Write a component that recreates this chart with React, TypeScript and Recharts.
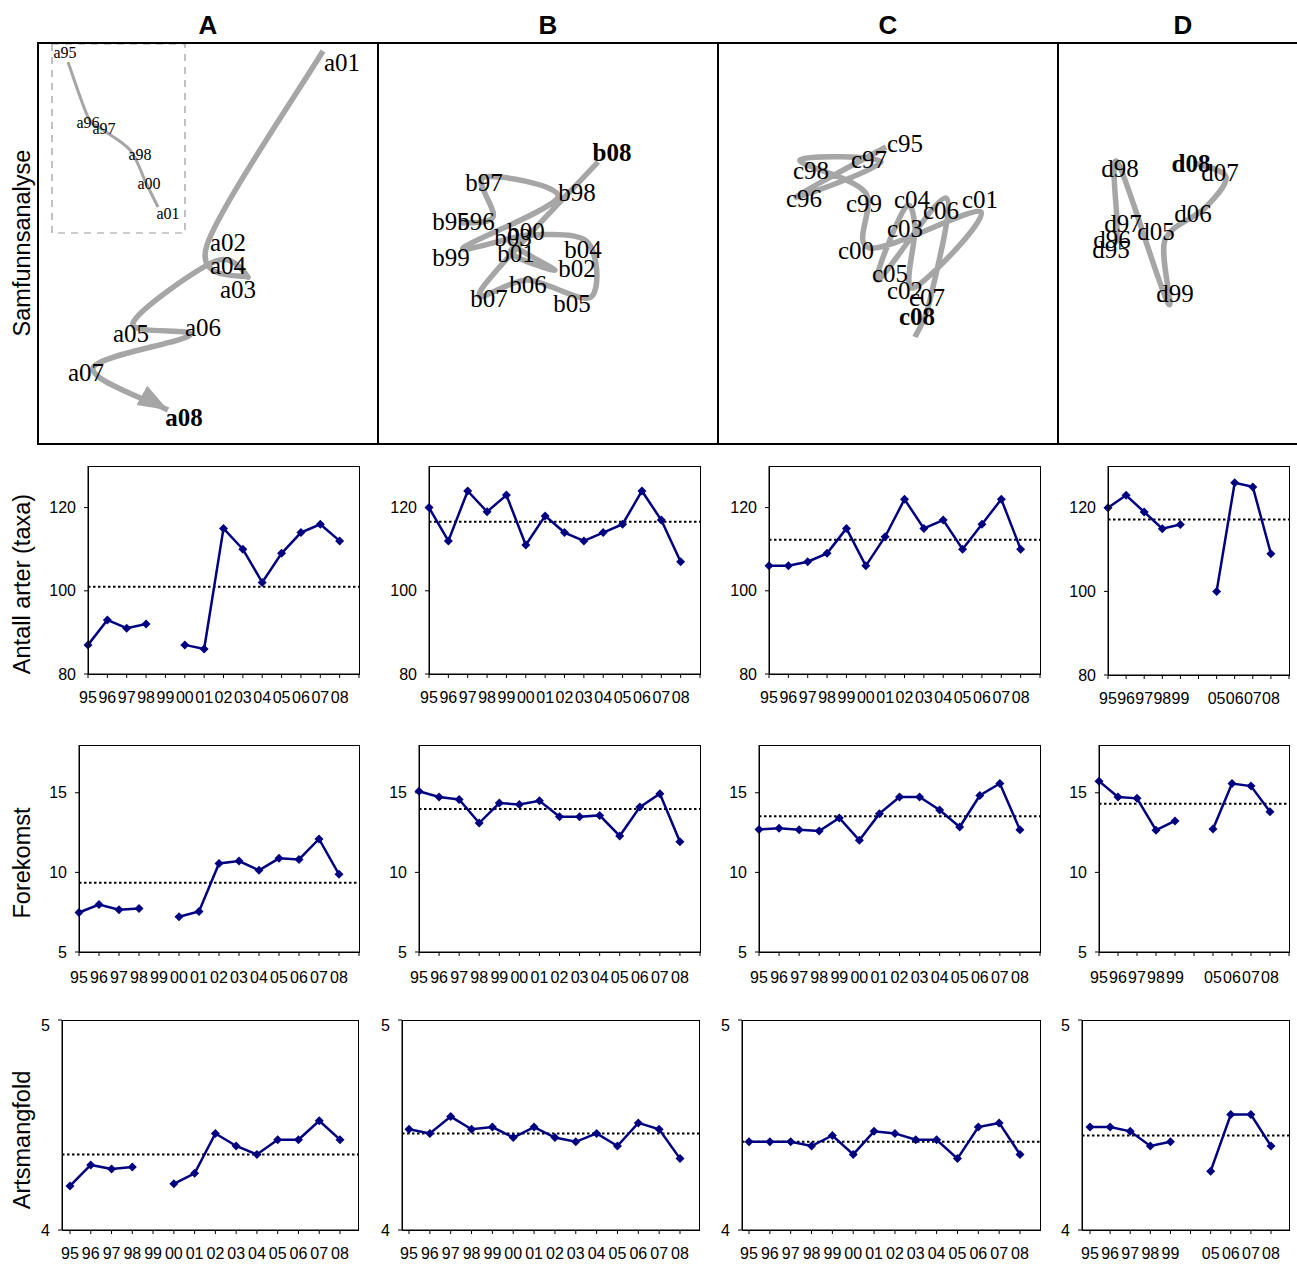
import React from 'react';
import { LineChart, Line, XAxis, YAxis, ReferenceLine, ReferenceArea } from 'recharts';

// ---------- categories ----------
const YEARS = ['95', '96', '97', '98', '99', '00', '01', '02', '03', '04', '05', '06', '07', '08', 'end'];
const YEARS_D = ['95', '96', '97', '98', '99', 'gap', '05', '06', '07', '08', 'end'];
const YEARS_BOTTOM = ['95', '96', '97', '98', '99', '00', '01', '02', '03', '04', '05', '06', '07', '08'];
const YEARS_D_BOTTOM = ['95', '96', '97', '98', '99', 'gap', '05', '06', '07', '08'];

// ---------- Antall arter (taxa) ----------
const antallA = [87, 93, 91, 92, null, 87, 86, 115, 110, 102, 109, 114, 116, 112];
const antallB = [120, 112, 124, 119, 123, 111, 118, 114, 112, 114, 116, 124, 117, 107];
const antallC = [106, 106, 107, 109, 115, 106, 113, 122, 115, 117, 110, 116, 122, 110];
const antallD = [120, 123, 119, 115, 116, null, 100, 126, 125, 109];
const antallMean = [101.0, 116.6, 112.3, 117.2];

// ---------- Forekomst ----------
const forekA = [7.48, 7.98, 7.65, 7.73, null, 7.21, 7.54, 10.56, 10.71, 10.13, 10.88, 10.81, 12.1, 9.88];
const forekB = [15.1, 14.73, 14.58, 13.1, 14.35, 14.27, 14.5, 13.5, 13.5, 13.58, 12.29, 14.1, 14.94, 11.92];
const forekC = [12.69, 12.77, 12.67, 12.6, 13.42, 12.02, 13.69, 14.73, 14.73, 13.92, 12.85, 14.83, 15.58, 12.67];
const forekD = [15.73, 14.73, 14.65, 12.65, 13.23, null, 12.73, 15.58, 15.42, 13.81];
const forekMean = [9.35, 13.98, 13.52, 14.31];

// ---------- Artsmangfold ----------
const artsA = [4.21, 4.31, 4.29, 4.3, null, 4.22, 4.27, 4.46, 4.4, 4.36, 4.43, 4.43, 4.52, 4.43];
const artsB = [4.48, 4.46, 4.54, 4.48, 4.49, 4.44, 4.49, 4.44, 4.42, 4.46, 4.4, 4.51, 4.48, 4.34];
const artsC = [4.42, 4.42, 4.42, 4.4, 4.45, 4.36, 4.47, 4.46, 4.43, 4.43, 4.34, 4.49, 4.51, 4.36];
const artsD = [4.49, 4.49, 4.47, 4.4, 4.42, null, 4.28, 4.55, 4.55, 4.4];
const artsMean = [4.36, 4.46, 4.42, 4.45];

// ---------- Samfunnsanalyse (ordination scores) ----------
const aNames = ['a01', 'a02', 'a03', 'a04', 'a05', 'a06', 'a07', 'a08'];
const aAxis1 = [285, 169, 210, 178, 95, 152, 55, 130];
const aAxis2 = [392, 198, 166, 182, 120, 108, 75, 33];

const aInsetNames = ['a95', 'a96', 'a97', 'a98', 'a00', 'a01'];
const aInsetAxis1 = [30, 50, 62, 92, 108, 120];
const aInsetAxis2 = [381, 326, 315, 293, 260, 236];

const bNames = ['b95', 'b96', 'b97', 'b98', 'b99', 'b00', 'b01', 'b02', 'b03', 'b04', 'b05', 'b06', 'b07', 'b08'];
const bAxis1 = [83, 115, 106, 180, 85, 150, 133, 177, 132, 207, 213, 150, 103, 220];
const bAxis2 = [220, 226, 266, 246, 195, 208, 190, 173, 203, 203, 146, 163, 153, 281];

const cNames = ['c95', 'c96', 'c97', 'c98', 'c99', 'c00', 'c01', 'c02', 'c03', 'c04', 'c05', 'c06', 'c07', 'c08'];
const cAxis1 = [168, 78, 163, 82, 147, 152, 263, 195, 197, 187, 160, 228, 212, 197];
const cAxis2 = [296, 246, 281, 283, 251, 195, 231, 155, 216, 235, 163, 245, 143, 106];

const dNames = ['d95', 'd96', 'd97', 'd98', 'd99', 'd05', 'd06', 'd07', 'd08'];
const dAxis1 = [58, 59, 59, 60, 110, 107, 147, 168, 137];
const dAxis2 = [200, 206, 221, 280, 140, 203, 235, 266, 280];

// ---------- label placement (layout only) ----------
const aLabelOff = [[19, 11], [21, -3], [-10, 12], [12, 4], [-2, 10], [13, -8], [-7, 4], [16, 7]];
const aInsetLabelOff = [[-3, -10], [0, 5], [4, 0], [10, 4], [3, 0], [10, 6]];
const bLabelOff = [[-10, -2], [-17, 4], [0, 5], [19, -5], [-12, 9], [-2, -4], [5, 0], [22, -2], [3, -3], [-2, 9], [-19, 6], [0, 4], [8, 8], [14, -10]];
const cLabelOff = [[19, -4], [8, 1], [-12, -3], [11, 10], [-1, 11], [-14, 2], [-1, -13], [-8, 2], [-10, 1], [7, -9], [12, -7], [-5, 12], [-3, -3], [2, -21]];
const dLabelOff = [[-5, 6], [-5, 2], [6, 1], [2, 5], [7, -10], [-9, -9], [-12, 5], [-6, -5], [-4, 0]];

const SERIF = '"Liberation Serif", "Times New Roman", "DejaVu Serif", serif';
const SANS = '"Liberation Sans", Arial, "DejaVu Sans", sans-serif';
const TRAJ_GREY = '#a6a6a6';
const NAVY = '#000080';

// Catmull-Rom style smoothing (like spreadsheet "smoothed line")
const smoothCurve: any = (context: any) => {
  let pts: number[][] = [];
  return {
    areaStart() {},
    areaEnd() {},
    lineStart() {
      pts = [];
    },
    point(x: number, y: number) {
      pts.push([+x, +y]);
    },
    lineEnd() {
      const n = pts.length;
      if (!n) return;
      context.moveTo(pts[0][0], pts[0][1]);
      for (let i = 0; i < n - 1; i++) {
        const p0 = pts[i - 1] || pts[i];
        const p1 = pts[i];
        const p2 = pts[i + 1];
        const p3 = pts[i + 2] || p2;
        context.bezierCurveTo(
          p1[0] + (p2[0] - p0[0]) / 6,
          p1[1] + (p2[1] - p0[1]) / 6,
          p2[0] - (p3[0] - p1[0]) / 6,
          p2[1] - (p3[1] - p1[1]) / 6,
          p2[0],
          p2[1]
        );
      }
    },
  };
};

type TrajProps = {
  left: number;
  width: number;
  names: string[];
  axis1: number[];
  axis2: number[];
  offsets: number[][];
  arrow?: boolean;
  inset?: { names: string[]; axis1: number[]; axis2: number[]; offsets: number[][] };
};

function labelDot(names: string[], offsets: number[][], fontSize: number, boldLast: boolean) {
  return (p: any) => {
    const { cx, cy, index } = p;
    if (cx == null || cy == null) return <g key={`e${index}`} />;
    const off = offsets[index] || [0, 0];
    const last = boldLast && index === names.length - 1;
    return (
      <text
        key={`l${index}`}
        x={cx + off[0]}
        y={cy + off[1]}
        textAnchor="middle"
        dominantBaseline="central"
        fontFamily={SERIF}
        fontSize={fontSize}
        fontWeight={last ? 'bold' : 'normal'}
        fill="#000"
      >
        {names[index]}
      </text>
    );
  };
}

function TrajPanel({ left, width, names, axis1, axis2, offsets, arrow, inset }: TrajProps) {
  const data = names.map((n, i) => ({ name: n, x: axis1[i], y: axis2[i] }));
  const insetData = inset ? inset.names.map((n, i) => ({ name: n, x: inset.axis1[i], y: inset.axis2[i] })) : [];
  return (
    <div style={{ position: 'absolute', left, top: 43 }}>
      <LineChart width={width} height={400} margin={{ top: 0, right: 0, bottom: 0, left: 0 }} data={data}>
        <XAxis type="number" dataKey="x" domain={[0, width]} hide />
        <YAxis type="number" domain={[0, 400]} hide />
        {inset && (
          <ReferenceArea x1={14} x2={147} y1={210} y2={399} fill="none" stroke="#999" strokeWidth={1.2} strokeDasharray="7 6" />
        )}
        {inset && (
          <Line
            data={insetData}
            dataKey="y"
            type={smoothCurve}
            stroke={TRAJ_GREY}
            strokeWidth={3}
            strokeLinejoin="round"
            dot={labelDot(inset.names, inset.offsets, 16, false)}
            activeDot={false}
            isAnimationActive={false}
          />
        )}
        <Line
          dataKey="y"
          type={smoothCurve}
          stroke={TRAJ_GREY}
          strokeWidth={5.5}
          strokeLinejoin="round"
          markerEnd={arrow ? 'url(#trajArrow)' : undefined}
          dot={labelDot(names, offsets, 25, true)}
          activeDot={false}
          isAnimationActive={false}
        />
      </LineChart>
    </div>
  );
}

const diamondDot = (p: any) => {
  const { cx, cy, index } = p;
  if (cx == null || cy == null || p.value == null) return <g key={`d${index}`} />;
  const r = 4.5;
  return <path key={`d${index}`} d={`M${cx},${cy - r} L${cx + r},${cy} L${cx},${cy + r} L${cx - r},${cy} Z`} fill={NAVY} />;
};

type SeriesProps = {
  cats: string[];
  values: (number | null)[];
  mean: number;
  domain: [number, number];
  ticks: number[];
  l: number;
  r: number;
  t: number;
  b: number;
  xGap: number;
  padL?: number;
  padR?: number;
};

function SeriesPanel({ cats, values, mean, domain, ticks, l, r, t, b, xGap, padL = 0, padR = 0 }: SeriesProps) {
  const data = cats.map((c, i) => ({ cat: c, v: i < values.length ? values[i] : null }));
  const YW = 50;
  const XH = 38;
  const PAD = 4;
  const fmt = (c: string) => (c === 'end' || c === 'gap' ? '' : c);
  return (
    <>
      <div style={{ position: 'absolute', left: l - YW, top: t - PAD }}>
        <LineChart
          width={YW + (r - l) + PAD}
          height={PAD + (b - t) + XH}
          margin={{ top: PAD, right: PAD, bottom: 0, left: 0 }}
          data={data}
        >
          <XAxis
            dataKey="cat"
            interval={0}
            tickFormatter={fmt}
            height={XH}
            padding={{ left: padL, right: padR }}
            tickSize={4}
            tickMargin={xGap}
            axisLine={{ stroke: '#000' }}
            tickLine={{ stroke: '#000' }}
            tick={{ fill: '#000', fontSize: 16, fontFamily: SANS }}
          />
          <YAxis
            width={YW}
            type="number"
            domain={domain}
            ticks={ticks}
            allowDataOverflow
            tickSize={4}
            tickMargin={8}
            axisLine={{ stroke: '#000' }}
            tickLine={{ stroke: '#000' }}
            tick={{ fill: '#000', fontSize: 16, fontFamily: SANS }}
          />
          <ReferenceLine y={mean} stroke="#000" strokeDasharray="2.5 2.5" strokeWidth={2} />
          <Line
            dataKey="v"
            stroke={NAVY}
            strokeWidth={2.5}
            dot={diamondDot}
            activeDot={false}
            connectNulls={false}
            isAnimationActive={false}
          />
        </LineChart>
      </div>
      <div
        style={{
          position: 'absolute',
          left: l,
          top: t,
          width: r - l + 1,
          height: b - t + 1,
          border: '1px solid #000',
          boxSizing: 'border-box',
          pointerEvents: 'none',
        }}
      />
    </>
  );
}

const headers = [
  { text: 'A', x: 208 },
  { text: 'B', x: 548 },
  { text: 'C', x: 888 },
  { text: 'D', x: 1183 },
];

const rowTitles = [
  { text: 'Samfunnsanalyse', y: 243 },
  { text: 'Antall arter (taxa)', y: 584 },
  { text: 'Forekomst', y: 863 },
  { text: 'Artsmangfold', y: 1140 },
];

export default function App() {
  const lineStyle = (s: React.CSSProperties): React.CSSProperties => ({ position: 'absolute', background: '#000', ...s });
  return (
    <div style={{ position: 'absolute', left: 0, top: 0, width: 1297, height: 1264, background: '#fff', overflow: 'hidden' }}>
      <svg width={0} height={0} style={{ position: 'absolute' }}>
        <defs>
          <marker id="trajArrow" markerUnits="userSpaceOnUse" markerWidth={32} markerHeight={24} refX={30} refY={12} orient="auto">
            <path d="M0,1 L30,12 L0,23 Z" fill={TRAJ_GREY} />
          </marker>
        </defs>
      </svg>

      {headers.map((h) => (
        <div
          key={h.text}
          style={{
            position: 'absolute',
            left: h.x - 30,
            width: 60,
            top: 10,
            textAlign: 'center',
            fontFamily: SANS,
            fontWeight: 'bold',
            fontSize: 26,
            lineHeight: '30px',
          }}
        >
          {h.text}
        </div>
      ))}

      {rowTitles.map((r) => (
        <div
          key={r.text}
          style={{
            position: 'absolute',
            left: 22 - 150,
            top: r.y - 15,
            width: 300,
            height: 30,
            lineHeight: '30px',
            textAlign: 'center',
            fontFamily: SANS,
            fontSize: 23.5,
            transform: 'rotate(-90deg)',
            whiteSpace: 'nowrap',
          }}
        >
          {r.text}
        </div>
      ))}

      {/* Samfunnsanalyse trajectories */}
      <TrajPanel
        left={38}
        width={340}
        names={aNames}
        axis1={aAxis1}
        axis2={aAxis2}
        offsets={aLabelOff}
        arrow
        inset={{ names: aInsetNames, axis1: aInsetAxis1, axis2: aInsetAxis2, offsets: aInsetLabelOff }}
      />
      <TrajPanel left={378} width={340} names={bNames} axis1={bAxis1} axis2={bAxis2} offsets={bLabelOff} />
      <TrajPanel left={718} width={340} names={cNames} axis1={cAxis1} axis2={cAxis2} offsets={cLabelOff} />
      <TrajPanel left={1058} width={239} names={dNames} axis1={dAxis1} axis2={dAxis2} offsets={dLabelOff} />

      {/* frame of the top row */}
      <div style={lineStyle({ left: 37, top: 42, width: 1260, height: 2 })} />
      <div style={lineStyle({ left: 37, top: 443, width: 1260, height: 2 })} />
      {[37, 377, 717, 1057].map((x) => (
        <div key={x} style={lineStyle({ left: x, top: 42, width: 2, height: 403 })} />
      ))}

      {/* Antall arter */}
      <SeriesPanel cats={YEARS} values={antallA} mean={antallMean[0]} domain={[80, 130]} ticks={[80, 100, 120]} l={88} r={359} t={466} b={674} xGap={14} />
      <SeriesPanel cats={YEARS} values={antallB} mean={antallMean[1]} domain={[80, 130]} ticks={[80, 100, 120]} l={429} r={700} t={466} b={674} xGap={14} />
      <SeriesPanel cats={YEARS} values={antallC} mean={antallMean[2]} domain={[80, 130]} ticks={[80, 100, 120]} l={769} r={1040} t={466} b={674} xGap={14} />
      <SeriesPanel cats={YEARS_D} values={antallD} mean={antallMean[3]} domain={[80, 130]} ticks={[80, 100, 120]} l={1108} r={1289} t={466} b={675} xGap={14} />

      {/* Forekomst */}
      <SeriesPanel cats={YEARS} values={forekA} mean={forekMean[0]} domain={[5, 18]} ticks={[5, 10, 15]} l={79} r={359} t={745} b={952} xGap={16} />
      <SeriesPanel cats={YEARS} values={forekB} mean={forekMean[1]} domain={[5, 18]} ticks={[5, 10, 15]} l={419} r={700} t={745} b={952} xGap={16} />
      <SeriesPanel cats={YEARS} values={forekC} mean={forekMean[2]} domain={[5, 18]} ticks={[5, 10, 15]} l={759} r={1040} t={745} b={952} xGap={16} />
      <SeriesPanel cats={YEARS_D} values={forekD} mean={forekMean[3]} domain={[5, 18]} ticks={[5, 10, 15]} l={1099} r={1289} t={745} b={952} xGap={16} />

      {/* Artsmangfold */}
      <SeriesPanel cats={YEARS_BOTTOM} values={artsA} mean={artsMean[0]} domain={[4, 5]} ticks={[4, 5]} l={62} r={358} t={1020} b={1230} xGap={14} padL={8} padR={18} />
      <SeriesPanel cats={YEARS_BOTTOM} values={artsB} mean={artsMean[1]} domain={[4, 5]} ticks={[4, 5]} l={402} r={699} t={1020} b={1230} xGap={14} padL={7} padR={19} />
      <SeriesPanel cats={YEARS_BOTTOM} values={artsC} mean={artsMean[2]} domain={[4, 5]} ticks={[4, 5]} l={742} r={1040} t={1020} b={1230} xGap={14} padL={7} padR={20} />
      <SeriesPanel cats={YEARS_D_BOTTOM} values={artsD} mean={artsMean[3]} domain={[4, 5]} ticks={[4, 5]} l={1082} r={1289} t={1020} b={1230} xGap={14} padL={8} padR={18} />
    </div>
  );
}
